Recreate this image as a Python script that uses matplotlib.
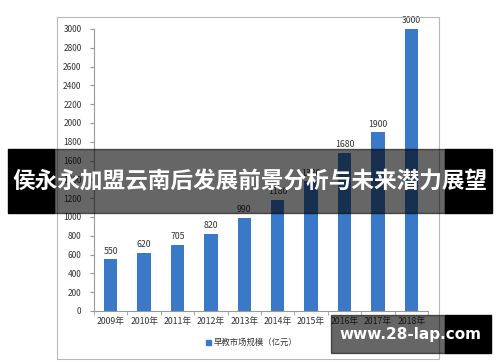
import matplotlib.pyplot as plt
import numpy as np
from matplotlib.patches import Rectangle

plt.rcParams['font.family'] = ['Noto Sans CJK SC', 'DejaVu Sans']

# data
years = ["2009年", "2010年", "2011年", "2012年", "2013年",
         "2014年", "2015年", "2016年", "2017年", "2018年"]
market = [550, 620, 705, 820, 990, 1180, 1380, 1680, 1900, 3000]
legend_label = "早教市场规模（亿元）"
title = "侯永永加盟云南后发展前景分析与未来潜力展望"
site = "www.28-lap.com"

W, H = 500, 362
fig = plt.figure(figsize=(W / 100, H / 100), dpi=100)

def fx(px):
    return px / W

def fy(py):
    return 1 - py / H

def box(x0, y0, x1, y1, **kw):
    # rectangle given in picture pixels (top-left origin)
    r = Rectangle((fx(x0), fy(y1)), fx(x1) - fx(x0), fy(y0) - fy(y1),
                  transform=fig.transFigure, **kw)
    fig.patches.append(r)
    return r

# chart frame
box(57, 17, 439, 359, fill=False, edgecolor="#b8b8b8", lw=0.8, zorder=0)

ax = fig.add_axes([fx(94), fy(311), fx(428) - fx(94), fy(29) - fy(311)])
x = np.arange(len(years))
ax.bar(x, market, width=0.4, color="#3a78c8", zorder=2)
for xi, v in zip(x, market):
    ax.text(xi, v + 40, str(v), ha="center", va="bottom", fontsize=6.3, color="#333333")

ax.set_xlim(-0.5, 9.5)
ax.set_ylim(0, 3000)
ax.set_yticks(np.arange(0, 3001, 200))
ax.set_xticks(x)
ax.set_xticklabels(years)
ax.set_xticks(np.arange(-0.5, 10, 1), minor=True)
ax.tick_params(axis="x", which="major", length=0, labelsize=6.3, colors="#333333", pad=4)
ax.tick_params(axis="x", which="minor", length=3, color="#999999")
ax.tick_params(axis="y", length=3, color="#999999", labelsize=6, labelcolor="#333333", pad=6)
for s in ["top", "right"]:
    ax.spines[s].set_visible(False)
for s in ["left", "bottom"]:
    ax.spines[s].set_color("#999999")
    ax.spines[s].set_linewidth(0.8)

# legend
box(206, 340, 211, 345, color="#3a78c8")
fig.text(fx(214), fy(342.5), legend_label, fontsize=6, color="#333333", va="center")

# title banner
box(54, 149, 445, 213, color="black", alpha=0.6, zorder=6)
box(8, 149, 54, 213, color="black", zorder=6)
box(445, 149, 492, 213, color="black", zorder=6)
fig.text(fx(250), fy(182), title, fontsize=16.3, fontweight="bold", color="white",
         ha="center", va="center", zorder=7)

# site watermark
box(331, 315, 445, 353, color="black", alpha=0.6, zorder=6)
box(445, 315, 491, 353, color="black", zorder=6)
fig.text(fx(410), fy(335), site, fontsize=11, fontweight="bold", color="white",
         ha="center", va="center", family=["DejaVu Sans"], zorder=7)

fig.savefig("out.png", dpi=100)
